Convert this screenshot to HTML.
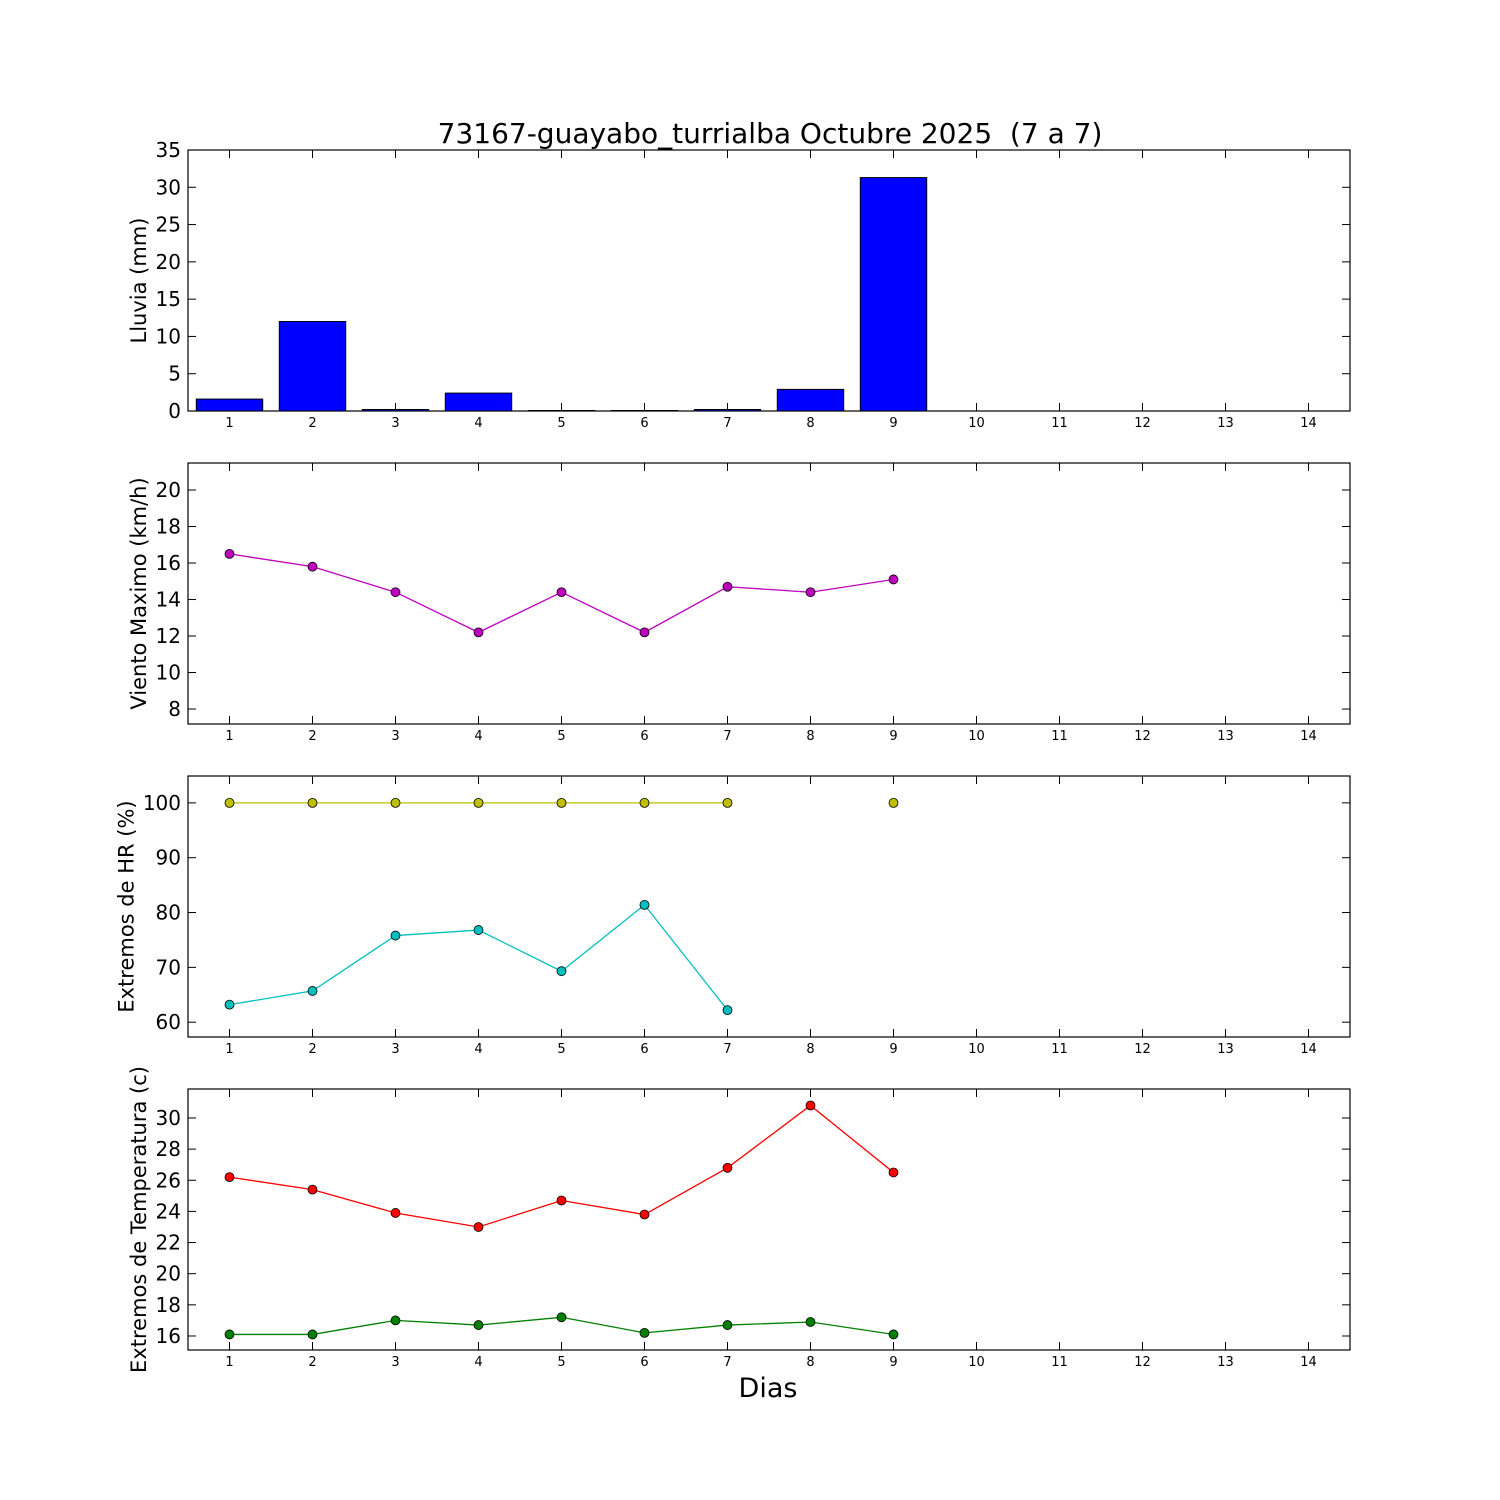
<!DOCTYPE html>
<html><head><meta charset="utf-8"><style>
html,body{margin:0;padding:0;background:#fff;}
svg{display:block;font-family:"DejaVu Sans","Liberation Sans",sans-serif;}
</style></head><body>
<svg id="chart" width="1500" height="1500" viewBox="0 0 1500 1500" xmlns="http://www.w3.org/2000/svg">
<rect width="1500" height="1500" fill="#fff"/>
<text x="770" y="143" font-size="28" text-anchor="middle" style="white-space:pre">73167-guayabo_turrialba Octubre 2025  (7 a 7)</text>
<text x="768" y="1397" font-size="27" text-anchor="middle">Dias</text>
</svg>
<script>
const days = [1,2,3,4,5,6,7,8,9,10,11,12,13,14];
const lluvia = [1.6,12.0,0.2,2.4,0,0,0.2,2.9,31.3];
const viento = [16.5,15.8,14.4,12.2,14.4,12.2,14.7,14.4,15.1];
const hrMax = [100,100,100,100,100,100,100,null,100];
const hrMin = [63.2,65.7,75.8,76.8,69.3,81.4,62.2];
const tMax = [26.2,25.4,23.9,23.0,24.7,23.8,26.8,30.8,26.5];
const tMin = [16.1,16.1,17.0,16.7,17.2,16.2,16.7,16.9,16.1];
const ticksLluvia = [0,5,10,15,20,25,30,35];
const ticksViento = [8,10,12,14,16,18,20];
const ticksHR = [60,70,80,90,100];
const ticksT = [16,18,20,22,24,26,28,30];

const svg = document.getElementById('chart');
const NS = 'http://www.w3.org/2000/svg';
function el(tag, attrs, parent){const e=document.createElementNS(NS,tag);for(const k in attrs)e.setAttribute(k,attrs[k]);(parent||svg).appendChild(e);return e;}
const L=188,R=1350;
function xs(d){return L+(d-0.5)/14*(R-L);}

function panel(name, top, bottom, ymin, ymax, yticks, ylabel){
  const g=el('g',{});
  
  
  const ys=v=>bottom-(v-ymin)/(ymax-ymin)*(bottom-top);
  const frame=el('rect',{x:L,y:top,width:R-L,height:bottom-top,fill:'none',stroke:'#000','stroke-width':1.2},g);
  
  
  days.forEach(d=>{
    const x=xs(d);
    el('line',{x1:x,y1:bottom,x2:x,y2:bottom-8,stroke:'#000'},g);
    el('line',{x1:x,y1:top,x2:x,y2:top+8,stroke:'#000'},g);
    const t=el('text',{x:x,y:bottom+16,'font-size':13,'text-anchor':'middle'},g);
    
    
    t.textContent=d;
  });
  let maxDigits=2;
  yticks.forEach(v=>{
    const y=ys(v);
    maxDigits=Math.max(maxDigits,String(v).length);
    el('line',{x1:L,y1:y,x2:L+8,y2:y,stroke:'#000'},g);
    el('line',{x1:R,y1:y,x2:R-8,y2:y,stroke:'#000'},g);
    const t=el('text',{x:L-7,y:y+7,'font-size':20,'text-anchor':'end'},g);
    
    
    t.textContent=v;
  });
  const cy=(top+bottom)/2;
  const lx=146-12.5*(maxDigits-2);
  const yl=el('text',{x:lx,y:cy,'font-size':21,'text-anchor':'middle',transform:'rotate(-90 '+lx+' '+cy+')'},g);
  
  
  yl.textContent=ylabel;
  return {g,ys};
}
function series(p, vals, color, name){
  let segs=[],cur=[];
  vals.forEach((v,i)=>{if(v==null){if(cur.length)segs.push(cur);cur=[];}else cur.push([xs(days[i]),p.ys(v)]);});
  if(cur.length)segs.push(cur);
  segs.forEach(s=>{if(s.length>1){const pl=el('polyline',{points:s.map(q=>q.join(',')).join(' '),fill:'none',stroke:color,'stroke-width':1.3},p.g);
    
    }});
  vals.forEach((v,i)=>{if(v==null)return;
    const c=el('circle',{cx:xs(days[i]),cy:p.ys(v),r:4.5,fill:color,stroke:'#000','stroke-width':0.8},p.g);
    
    });
}

const p1=panel('lluvia-panel',150,411,0,35,ticksLluvia,'Lluvia (mm)');
lluvia.forEach((v,i)=>{
  const x=xs(days[i])-0.4*83, y=p1.ys(v);
  const h=Math.max(p1.ys(0)-y,0.5);
  const b=el('rect',{x:x,y:p1.ys(0)-h,width:0.8*83,height:h,fill:'#0000ff',stroke:'#000','stroke-width':1},p1.g);
  
  
});
const p2=panel('viento-panel',463,724,7.18,21.48,ticksViento,'Viento Maximo (km/h)');
series(p2,viento,'#bf00bf','viento');
const p3=panel('hr-panel',776,1037,57.3,104.9,ticksHR,'Extremos de HR (%)');
series(p3,hrMax,'#bfbf00','hr-max');
series(p3,hrMin,'#00bfbf','hr-min');
const p4=panel('temp-panel',1089,1350,15.1,31.86,ticksT,'Extremos de Temperatura (c)');
series(p4,tMax,'#ff0000','temp-max');
series(p4,tMin,'#008000','temp-min');
</script>
</body></html>
